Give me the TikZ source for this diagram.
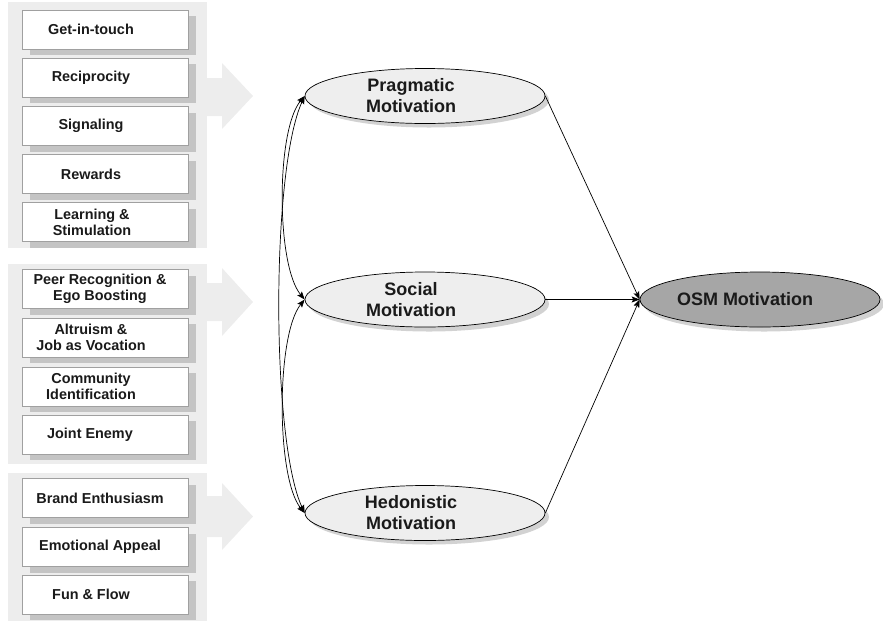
\documentclass[tikz,border=0pt]{standalone}
\usepackage{fontspec}
\setmainfont{Liberation Sans}
\usetikzlibrary{arrows.meta,shapes.geometric}
\definecolor{panelgray}{HTML}{EDEDED}
\definecolor{shadowgray}{HTML}{C4C4C4}
\definecolor{boxline}{HTML}{A0A0A0}
\definecolor{ellfill}{HTML}{EEEEEE}
\definecolor{osmfill}{HTML}{A6A6A6}
\definecolor{ink}{HTML}{1A1A1A}
\begin{document}
\begin{tikzpicture}[x=1pt,y=-1pt,
  panel/.style={fill=panelgray,draw=none},
  bigarrow/.style={fill=panelgray,draw=none},
  boxshadow/.style={fill=shadowgray,draw=none,minimum width=166pt,minimum height=39pt,inner sep=0pt},
  factorbox/.style={draw=boxline,line width=0.6pt,fill=white,minimum width=166pt,minimum height=39pt,inner sep=0pt},
  boxtext/.style={font=\fontsize{14.4}{16}\selectfont\bfseries,text=ink,align=center,inner sep=0pt},
  ellshadow/.style={ellipse,fill=gray!35,draw=none,minimum width=240pt,minimum height=55pt,inner sep=0pt},
  motive/.style={ellipse,draw=black,line width=0.7pt,fill=ellfill,minimum width=240pt,minimum height=55pt,inner sep=0pt},
  ellcore/.style={motive,fill=osmfill},
  elltext/.style={font=\fontsize{18}{21}\selectfont\bfseries,text=ink,align=center,inner sep=0pt},
  conn/.style={draw=black,line width=0.7pt,-{Stealth[length=8pt,width=6pt,inset=1.5pt]}},
  cov/.style={draw=black,line width=0.7pt,{Stealth[length=8pt,width=6pt,inset=1.5pt]}-{Stealth[length=8pt,width=6pt,inset=1.5pt]}}
]
\useasboundingbox (0,0) rectangle (883,622);
% panels and block arrows
\fill[bigarrow] (200,78) -- (222,78) -- (222,63) -- (253,96) -- (222,129) -- (222,116) -- (200,116) -- cycle;
\fill[bigarrow] (200,283) -- (222,283) -- (222,268) -- (253,302) -- (222,336) -- (222,321) -- (200,321) -- cycle;
\fill[bigarrow] (200,496) -- (222,496) -- (222,483) -- (253,516.5) -- (222,550) -- (222,537) -- (200,537) -- cycle;
\fill[panel] (8,2) rectangle (207,248);
\fill[panel] (8,264) rectangle (207,464);
\fill[panel] (8,473) rectangle (207,621);
% boxes
\foreach \y/\n in {29.5/b1,77.5/b2,126/b3,174/b4,222/b5,289/c1,337.5/c2,386.5/c3,434.5/c4,498/d1,547/d2,594.5/d3}{
  \node[boxshadow] at (113,\y+6) {};
  \node[factorbox] (\n) at (105,\y) {};
}
\node[boxtext] at ([xshift=-14pt]b1.center) {Get-in-touch};
\node[boxtext] at ([xshift=-14pt]b2.center) {Reciprocity};
\node[boxtext] at ([xshift=-14pt]b3.center) {Signaling};
\node[boxtext] at ([xshift=-14pt]b4.center) {Rewards};
\node[boxtext] at ([xshift=-13pt]b5.center) {Learning \&\\Stimulation};
\node[boxtext] at ([xshift=-5pt]c1.center) {Peer Recognition \&\\Ego Boosting};
\node[boxtext] at ([xshift=-14pt]c2.center) {Altruism \&\\Job as Vocation};
\node[boxtext] at ([xshift=-14pt]c3.center) {Community\\Identification};
\node[boxtext] at ([xshift=-15pt]c4.center) {Joint Enemy};
\node[boxtext] at ([xshift=-5pt]d1.center) {Brand Enthusiasm};
\node[boxtext] at ([xshift=-5pt]d2.center) {Emotional Appeal};
\node[boxtext] at ([xshift=-14pt]d3.center) {Fun \& Flow};
% ellipses
\node[ellshadow] at (429,100) {};
\node[ellshadow] at (429,304) {};
\node[ellshadow] at (429,517) {};
\node[ellshadow] at (764,304) {};
\node[motive] (prag) at (425,96) {};
\node[motive] (soc) at (425,299.5) {};
\node[motive] (hed) at (425,513) {};
\node[ellcore] (osm) at (760,299.5) {};
\node[elltext] at ([xshift=-14pt]prag.center) {Pragmatic\\Motivation};
\node[elltext] at ([xshift=-14pt]soc.center) {Social\\Motivation};
\node[elltext] at ([xshift=-14pt]hed.center) {Hedonistic\\Motivation};
\node[elltext] at ([xshift=-15pt]osm.center) {OSM Motivation};
% connectors
\draw[conn] (prag.east) -- (osm.west);
\draw[conn] (soc.east) -- (osm.west);
\draw[conn] (hed.east) -- (osm.west);
\draw[cov] (prag.west) .. controls (276,130) and (276,265) .. (soc.west);
\draw[cov] (prag.west) .. controls (271,170) and (271,440) .. (hed.west);
\draw[cov] (soc.west) .. controls (276,335) and (276,478) .. (hed.west);
\end{tikzpicture}
\end{document}
